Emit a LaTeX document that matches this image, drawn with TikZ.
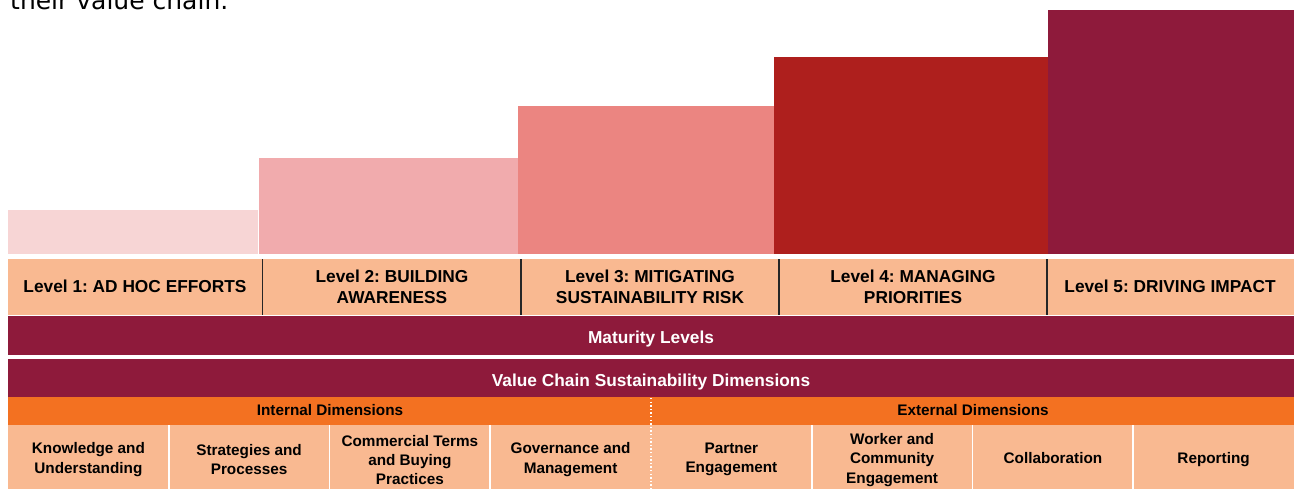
\documentclass[tikz,border=0pt]{standalone}
\usepackage{fontspec}
\setmainfont{Liberation Sans}
\newfontfamily\capfont{DejaVu Sans}
\frenchspacing
\definecolor{barA}{HTML}{F7D5D5}
\definecolor{barB}{HTML}{F1ABAD}
\definecolor{barC}{HTML}{EB8581}
\definecolor{barD}{HTML}{AE1F1D}
\definecolor{maroon}{HTML}{8E1A3B}
\definecolor{peach}{HTML}{F9B991}
\definecolor{orangeband}{HTML}{F37121}
\tikzset{
  lvltext/.style={align=center, text=black, font=\bfseries\fontsize{17.3}{21}\selectfont, inner sep=0pt},
  bandtext/.style={align=center, text=white, font=\bfseries\fontsize{17.3}{21}\selectfont, inner sep=0pt},
  dimtext/.style={align=center, text=black, font=\bfseries\fontsize{15.3}{19.3}\selectfont, inner sep=0pt},
  blackdiv/.style={draw=black!85, line width=1.4pt},
  whitediv/.style={draw=white, line width=1.6pt},
  dotdiv/.style={draw=white, line width=1.3pt, dash pattern=on 1.4pt off 2.2pt},
}
\begin{document}
\begin{tikzpicture}[x=1pt,y=-1pt]
\path[use as bounding box] (0,0) rectangle (1300,489);
\fill[white] (0,0) rectangle (1300,489);
\begin{scope}
\clip (0,0) rectangle (1300,489);
\node[anchor=base west, inner sep=0pt, font=\capfont\fontsize{25}{30}\selectfont] (cap) at (10,9.5) {their value chain.};
% bars
\fill[barA] (8,210) rectangle (258,254);
\fill[barB] (259,158) rectangle (518,254);
\fill[barC] (518,106) rectangle (774,254);
\fill[barD] (774,57) rectangle (1048,254);
\fill[maroon] (1048,10) rectangle (1294,254);
% level row
\fill[peach] (8,259) rectangle (1294,315);
\coordinate (d1t) at (262.5,259); \coordinate (d1b) at (262.5,315);
\coordinate (d2t) at (521,259); \coordinate (d2b) at (521,315);
\coordinate (d3t) at (779,259); \coordinate (d3b) at (779,315);
\coordinate (d4t) at (1047,259); \coordinate (d4b) at (1047,315);
\draw[blackdiv] (d1t) -- (d1b) (d2t) -- (d2b) (d3t) -- (d3b) (d4t) -- (d4b);
\node[lvltext, anchor=base] (l1) at (135,292.5) {Level 1: AD HOC EFFORTS};
\node[lvltext] (l2) at (392,286.5) {Level 2: BUILDING\\AWARENESS};
\node[lvltext] (l3) at (650,286.5) {Level 3: MITIGATING\\SUSTAINABILITY RISK};
\node[lvltext] (l4) at (913,286.5) {Level 4: MANAGING\\PRIORITIES};
\node[lvltext, anchor=base] (l5) at (1170,292.5) {Level 5: DRIVING IMPACT};
% maturity
\fill[maroon] (8,316) rectangle (1294,355);
\node[bandtext, anchor=base] (mat) at (651,343.5) {Maturity Levels};
% value chain
\fill[maroon] (8,359) rectangle (1294,397);
\node[bandtext, anchor=base] (vc) at (651,386) {Value Chain Sustainability Dimensions};
% orange band
\fill[orangeband] (8,397) rectangle (1294,425);
\node[dimtext, anchor=base] (int) at (330,415) {Internal Dimensions};
\node[dimtext, anchor=base] (ext) at (973,415) {External Dimensions};
% bottom row
\fill[peach] (8,425) rectangle (1294,492);
\foreach \i/\xx in {1/168.75,2/329.5,3/490.25,5/811.75,6/972.5,7/1133.25}{
  \coordinate (b\i t) at (\xx,425); \coordinate (b\i b) at (\xx,492);
  \draw[whitediv] (b\i t) -- (b\i b);
}
\coordinate (dott) at (651,398); \coordinate (dotb) at (651,492);
\draw[dotdiv] (dott) -- (dotb);
\node[dimtext] (k1) at (88.4,459.5) {Knowledge and\\Understanding};
\node[dimtext] (k2) at (249.1,459.5) {Strategies and\\Processes};
\node[dimtext] (k3) at (409.9,460) {Commercial Terms\\and Buying\\Practices};
\node[dimtext] (k4) at (570.6,459.5) {Governance and\\Management};
\node[dimtext] (k5) at (731.4,459.5) {Partner\\Engagement};
\node[dimtext] (k6) at (892.1,460) {Worker and\\Community\\Engagement};
\node[dimtext, anchor=base] (k7) at (1052.9,463) {Collaboration};
\node[dimtext, anchor=base] (k8) at (1213.6,463) {Reporting};
\end{scope}
\end{tikzpicture}
\end{document}
